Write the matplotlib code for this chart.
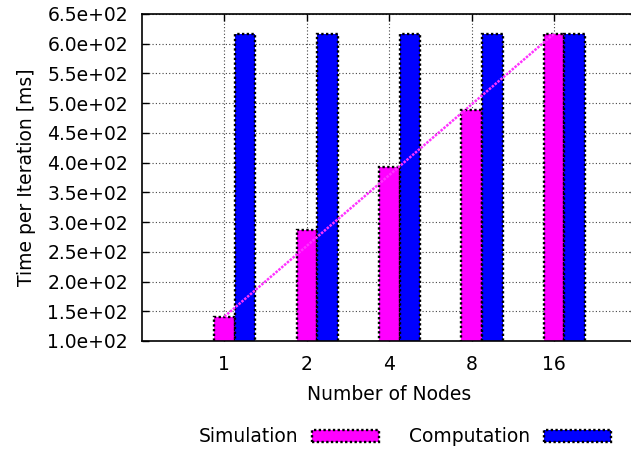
import numpy as np
import matplotlib
matplotlib.use('Agg')
import matplotlib.pyplot as plt
from matplotlib.ticker import FormatStrFormatter

# datos
nodos = ['1', '2', '4', '8', '16']
simulacion = [141, 287, 393, 489, 617]
computacion = [617, 617, 617, 617, 617]

plt.rcParams['font.family'] = ['DejaVu Sans']
plt.rcParams['font.size'] = 13.5

fig = plt.figure(figsize=(6.31, 4.55), dpi=100)
ax = fig.add_axes([142/631, 1 - 341/455, (636.5 - 142)/631, 327/455])

x = np.arange(len(nodos))
ancho = 0.25

ax.bar(x, simulacion, ancho, color='#ff00ff', edgecolor='black',
       linestyle=(0, (1, 1)), linewidth=1.7, label='Simulation', zorder=2)
ax.bar(x + ancho, computacion, ancho, color='#0000ff', edgecolor='black',
       linestyle=(0, (1, 1)), linewidth=1.7, label='Computation', zorder=2)

# linea entre el primer y el ultimo punto de la simulacion
ax.plot([x[0], x[-1]], [simulacion[0], simulacion[-1]], color='#ff33ff',
        linestyle=(0, (1, 0.5)), linewidth=1.8, zorder=3)

ax.set_xlim(-1, 5)
ax.set_ylim(100, 650)
ax.set_xticks(x)
ax.set_xticklabels(nodos)
ax.set_yticks(np.arange(100, 651, 50))
ax.yaxis.set_major_formatter(FormatStrFormatter('%.1e'))

ax.tick_params(direction='in', length=5, width=1, top=True, right=True, pad=10)
ax.grid(True, color='#444444', linestyle=(0, (1, 2)), linewidth=0.8)
ax.set_axisbelow(True)
for s in ax.spines.values():
    s.set_linewidth(1.2)

ax.set_xlabel('Number of Nodes', labelpad=8)
ax.set_ylabel('Time per Iteration [ms]', labelpad=8)

fig.legend(loc='center', bbox_to_anchor=(405/631, 1 - 437/455), ncol=2,
           markerfirst=False, frameon=False, handlelength=3.6, handleheight=0.55,
           handletextpad=0.7, columnspacing=1.6)

fig.savefig('out.png', dpi=100)
